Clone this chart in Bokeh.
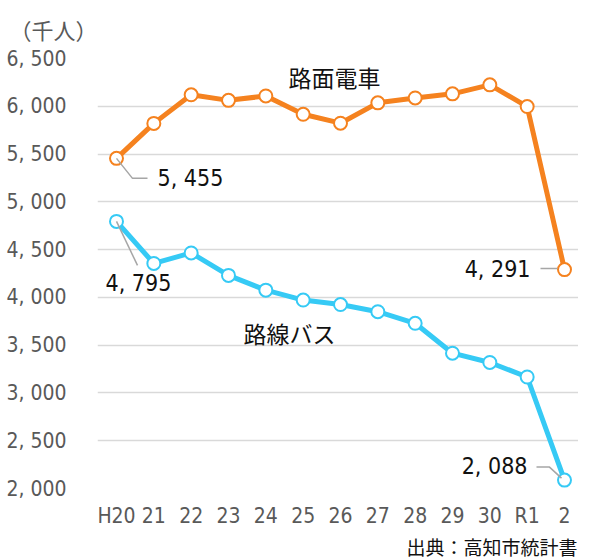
from bokeh.plotting import figure
from bokeh.models import FixedTicker, Label, ColumnDataSource, Title
from bokeh.core.properties import value
from bokeh.embed import file_html
from bokeh.resources import INLINE

# ---- data ----
years = ["H20", "21", "22", "23", "24", "25", "26", "27", "28", "29", "30", "R1", "2"]
tram = [5455, 5821, 6120, 6062, 6108, 5916, 5823, 6036, 6087, 6130, 6224, 5997, 4291]
bus = [4795, 4355, 4465, 4230, 4076, 3972, 3925, 3850, 3729, 3416, 3319, 3167, 2088]
y_ticks = [2000, 2500, 3000, 3500, 4000, 4500, 5000, 5500, 6000, 6500]
y_tick_labels = ["2, 000", "2, 500", "3, 000", "3, 500", "4, 000", "4, 500",
                 "5, 000", "5, 500", "6, 000", "6, 500"]
tram_name = "路面電車"
bus_name = "路線バス"
unit_label = "（千人）"
source_label = "出典：高知市統計書"

ORANGE = "#F5821F"
BLUE = "#36CAF5"
GREY = "#A6A6A6"
NUM_FONT = "'DejaVu Sans Condensed', Roboto, sans-serif"
JP_FONT = "Noto Sans CJK JP"

xs = list(range(len(years)))

X0, X1 = -0.509, 12.375
p = figure(frame_width=481, frame_height=430, output_backend="svg", toolbar_location=None,
           x_range=(X0, X1), y_range=(2000, 6500),
           min_border_left=97, min_border_right=0, min_border_top=51,
           min_border_bottom=62)
p.outline_line_color = None
p.background_fill_color = "white"
p.border_fill_color = "white"

# unit (above) and source (below)
p.add_layout(Title(text=unit_label, align="left", offset=-88, standoff=24,
                   vertical_align="top",
                   text_font=JP_FONT, text_font_size="22px", text_font_style="normal",
                   text_color="#595959"), "above")
p.add_layout(Title(text=source_label, align="right", offset=1, standoff=0,
                   text_font=JP_FONT, text_font_size="19px", text_font_style="normal",
                   text_color="#111111"), "below")

# axes
p.xaxis.ticker = FixedTicker(ticks=xs)
p.xaxis.major_label_overrides = {i: t for i, t in zip(xs, years)}
p.yaxis.ticker = FixedTicker(ticks=y_ticks)
p.yaxis.major_label_overrides = {v: t for v, t in zip(y_ticks, y_tick_labels)}
for ax in (p.xaxis[0], p.yaxis[0]):
    ax.axis_line_color = None
    ax.major_tick_line_color = None
    ax.minor_tick_line_color = None
    ax.major_label_text_font = NUM_FONT
    ax.major_label_text_font_size = "21px"
    ax.major_label_text_color = "#595959"
p.yaxis.major_label_standoff = 25
p.xaxis.major_label_standoff = 9
p.xgrid.grid_line_color = None
p.ygrid.grid_line_color = "#D9D9D9"
p.ygrid.grid_line_width = 1.5

# series
p.line(xs, tram, line_color=ORANGE, line_width=5)
p.line(xs, bus, line_color=BLUE, line_width=5)
p.scatter(xs, tram, size=13, fill_color="white", line_color=ORANGE, line_width=2)
p.scatter(xs, bus, size=13, fill_color="white", line_color=BLUE, line_width=2)

# pixel -> data helpers
PX_X = 481 / (X1 - X0)
PX_Y = 430 / 4500.0
def dx(px):
    return px / PX_X
def dy(px):
    return -px / PX_Y

# leader lines (offsets in pixels from the data points)
lx = []
ly = []
i, v = 0, tram[0]
lx.append([i, i + dx(16), i + dx(31)]); ly.append([v, v + dy(20), v + dy(20)])
i, v = 0, bus[0]
lx.append([i, i + dx(21)]); ly.append([v, v + dy(44)])
i, v = 12, tram[12]
lx.append([i - dx(24), i - dx(7)]); ly.append([v + dy(-1), v + dy(-1)])
i, v = 12, bus[12]
lx.append([i - dx(28), i - dx(15), i - dx(3)]); ly.append([v + dy(-13), v + dy(-13), v + dy(-2)])
p.multi_line(lx, ly, line_color=GREY, line_width=1.5)

# value labels
lab = ColumnDataSource(dict(
    x=[0, 0, 12, 12],
    y=[tram[0], bus[0], tram[12], bus[12]],
    text=["5, 455", "4, 795", "4, 291", "2, 088"],
    xo=[41, -11, -34, -37],
    yo=[20, 62, -1, -14],
    align=["left", "left", "right", "right"],
))
p.text(x="x", y="y", text="text", x_offset="xo", y_offset="yo", text_align="align",
       text_baseline="middle", text_font=value(NUM_FONT), text_font_size="23px",
       text_color="#111111", source=lab)

# series names
p.add_layout(Label(x=237, y=412, x_units="screen", y_units="screen", text=tram_name,
                   text_align="center", text_baseline="middle", text_font=JP_FONT,
                   text_font_size="23px", text_color="#111111"))
p.add_layout(Label(x=192, y=156, x_units="screen", y_units="screen", text=bus_name,
                   text_align="center", text_baseline="middle", text_font=JP_FONT,
                   text_font_size="23px", text_color="#111111"))

open("out.html", "w").write(file_html(p, INLINE))
